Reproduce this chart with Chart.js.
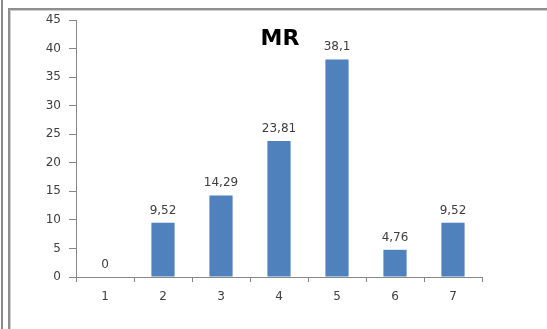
<!DOCTYPE html>
<html>
<head>
<meta charset="utf-8">
<script src="https://cdn.jsdelivr.net/npm/chart.js@4/dist/chart.umd.min.js"></script>
<style>
  html, body { margin: 0; padding: 0; background: #fff; }
  #wrap { position: relative; width: 547px; height: 329px; overflow: hidden; }
  #outer { position: absolute; left: 1px; top: 0; width: 2px; height: 329px; background: #8a8a8a; }
  #frame { position: absolute; left: 8px; top: 8px; width: 560px; height: 340px;
           border-left: 2px solid #8f8f8f; border-top: 2px solid #8f8f8f; box-shadow: inset 1px 1px 0 #cfcfcf; }
  canvas { position: absolute; left: 0; top: 0; }
</style>
</head>
<body>
<div id="wrap">
  <div id="outer"></div>
  <div id="frame"></div>
  <canvas id="mrChart" width="547" height="329"></canvas>
</div>
<script>
// MR distribution per category
const categories = ['1', '2', '3', '4', '5', '6', '7'];
const mrValues = [0, 9.52, 14.29, 23.81, 38.1, 4.76, 9.52];
const chartTitle = 'MR';

const textColor = '#404040';
const axisColor = '#868686';
const fontFamily = "'DejaVu Sans', sans-serif";

// value labels above each bar, with comma decimals
const valueLabels = {
    id: 'valueLabels',
    afterDatasetsDraw(chart) {
        const ctx = chart.ctx;
        const meta = chart.getDatasetMeta(0);
        ctx.save();
        ctx.font = '12px ' + fontFamily;
        ctx.fillStyle = textColor;
        ctx.textAlign = 'center';
        ctx.textBaseline = 'alphabetic';
        meta.data.forEach(function(bar, i) {
            const txt = String(mrValues[i]).replace('.', ',');
            ctx.fillText(txt, bar.x, bar.y - 9);
        });
        ctx.restore();
    }
};

// title sits inside the plot area
const innerTitle = {
    id: 'innerTitle',
    afterDraw(chart) {
        const ctx = chart.ctx;
        const area = chart.chartArea;
        ctx.save();
        ctx.font = 'bold 22px ' + fontFamily;
        ctx.fillStyle = '#000';
        ctx.textAlign = 'center';
        ctx.textBaseline = 'middle';
        ctx.fillText(chartTitle, (area.left + area.right) / 2 + 1, 39);
        ctx.restore();
    }
};

new Chart(document.getElementById('mrChart').getContext('2d'), {
    type: 'bar',
    data: {
        labels: categories,
        datasets: [{
            data: mrValues,
            backgroundColor: '#4f81bd',
            borderWidth: 0,
            categoryPercentage: 0.8,
            barPercentage: 0.5
        }]
    },
    options: {
        responsive: false,
        animation: false,
        layout: { padding: { top: 20, right: 65, left: 0, bottom: 0 } },
        plugins: {
            legend: { display: false },
            title: { display: false },
            tooltip: { enabled: false }
        },
        scales: {
            x: {
                offset: true,
                afterFit: function(scale) { scale.height = 52; },
                border: { color: axisColor, width: 1 },
                grid: { offset: true, drawOnChartArea: false, tickLength: 5, color: axisColor },
                ticks: { color: textColor, font: { family: fontFamily, size: 12 }, padding: 8 }
            },
            y: {
                min: 0,
                max: 45,
                afterFit: function(scale) { scale.width = 76; },
                border: { color: axisColor, width: 1 },
                grid: { drawOnChartArea: false, tickLength: 7, color: axisColor },
                ticks: { stepSize: 5, color: textColor, font: { family: fontFamily, size: 12 }, padding: 8 }
            }
        }
    },
    plugins: [valueLabels, innerTitle]
});
</script>
</body>
</html>
